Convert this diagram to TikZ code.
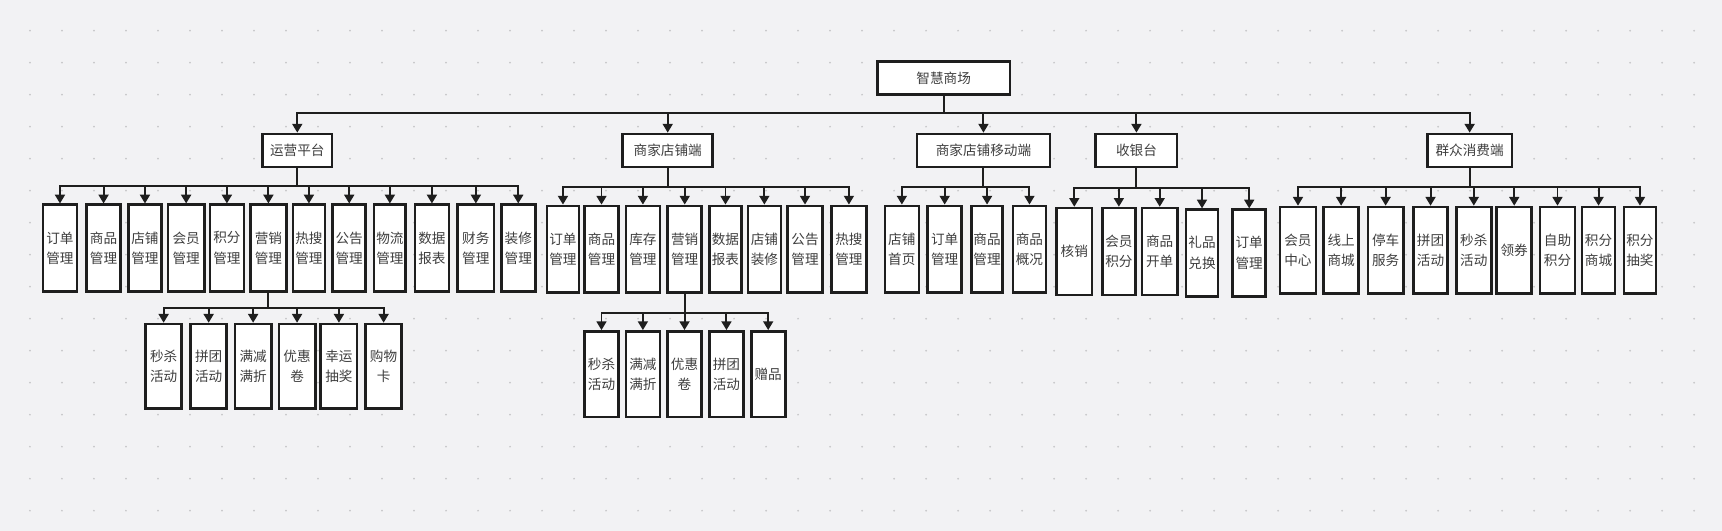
\documentclass[tikz,border=0pt]{standalone}
\usepackage{fontspec}
\newfontfamily\cjk{Noto Sans CJK SC}
\usetikzlibrary{arrows.meta}
\definecolor{paper}{RGB}{242,242,244}
\definecolor{dotc}{RGB}{198,198,200}
\definecolor{ink}{RGB}{30,30,30}
\definecolor{txt}{RGB}{62,62,62}
\tikzset{
  box/.style={draw=ink, fill=white, line width=2.4pt, inner sep=0pt, align=center,
    text=txt, font=\cjk\fontsize{12.4}{18.8}\selectfont},
  head/.style={box, minimum height=30pt},
  leaf/.style={box, minimum width=31pt, minimum height=79pt},
  arr/.style={draw=ink, line width=1.8pt, -{Triangle[width=9pt,length=8pt]}},
}
\begin{document}
\begin{tikzpicture}[x=1pt,y=-1pt]
                    % background and dot grid
                    \fill[paper] (0,0) rectangle (1568,483.5);
                    \useasboundingbox (0,0) rectangle (1568,483.5);
                    \foreach \i in {0,...,52}
                      \foreach \j in {0,...,15}
                        \fill[dotc] ({27.3+29.14*\i},{27.95+29.14*\j}) circle (0.9pt);

                    % Root
                    \node[head, minimum width=121pt] (root) at (859.3,71) {智慧商场};

                    % Level 1
                    \node[head, minimum width=63pt] (yy) at (270.7,137) {运营平台};
                    \node[head, minimum width=82pt] (sj) at (608,137) {商家店铺端};
                    \node[head, minimum width=121pt] (yd) at (895.5,137) {商家店铺移动端};
                    \node[head, minimum width=74pt] (sy) at (1034.8,137) {收银台};
                    \node[head, minimum width=77pt] (qz) at (1338.2,137) {群众消费端};

                    % Level 2 of yy
                    \node[leaf] (yy1) at (54.6,226) {订单\\管理};
                    \node[leaf] (yy2) at (94.3,226) {商品\\管理};
                    \node[leaf, minimum width=30pt] (yy3) at (132,226) {店铺\\管理};
                    \node[leaf, minimum width=33pt] (yy4) at (169.5,226) {会员\\管理};
                    \node[leaf] (yy5) at (206.6,226) {积分\\管理};
                    \node[leaf, minimum width=33pt] (yy6) at (244.4,226) {营销\\管理};
                    \node[leaf, minimum width=29pt] (yy7) at (281.3,226) {热搜\\管理};
                    \node[leaf, minimum width=30pt] (yy8) at (318,226) {公告\\管理};
                    \node[leaf, minimum width=29pt] (yy9) at (355,226) {物流\\管理};
                    \node[leaf] (yy10) at (393.3,226) {数据\\报表};
                    \node[leaf, minimum width=33pt] (yy11) at (433.3,226) {财务\\管理};
                    \node[leaf] (yy12) at (471.9,226) {装修\\管理};

                    % Level 3 of yy6
                    \node[leaf, minimum width=33pt, minimum height=77pt] (yx1) at (149,333.6) {秒杀\\活动};
                    \node[leaf, minimum width=33pt, minimum height=77pt] (yx2) at (190,333.6) {拼团\\活动};
                    \node[leaf, minimum width=33pt, minimum height=77pt] (yx3) at (230.5,333.6) {满减\\满折};
                    \node[leaf, minimum width=33pt, minimum height=77pt] (yx4) at (270.5,333.6) {优惠\\卷};
                    \node[leaf, minimum width=33pt, minimum height=77pt] (yx5) at (308.6,333.6) {幸运\\抽奖};
                    \node[leaf, minimum width=33pt, minimum height=77pt] (yx6) at (349.3,333.6) {购物\\卡};

                    % Level 2 of sj
                    \node[leaf, minimum width=29pt] (sj1) at (512.6,227) {订单\\管理};
                    \node[leaf] (sj2) at (547.7,227) {商品\\管理};
                    \node[leaf] (sj3) at (585.4,227) {库存\\管理};
                    \node[leaf] (sj4) at (623.5,227) {营销\\管理};
                    \node[leaf, minimum width=29pt] (sj5) at (660.6,227) {数据\\报表};
                    \node[leaf, minimum width=30pt] (sj6) at (696,227) {店铺\\装修};
                    \node[leaf, minimum width=32pt] (sj7) at (733,227) {公告\\管理};
                    \node[leaf, minimum width=32pt] (sj8) at (773,227) {热搜\\管理};

                    % Level 3 of sj4
                    \node[leaf, minimum height=78pt] (sx1) at (547.7,340.8) {秒杀\\活动};
                    \node[leaf, minimum height=78pt] (sx2) at (585.4,340.8) {满减\\满折};
                    \node[leaf, minimum height=78pt] (sx3) at (623.3,340.8) {优惠\\卷};
                    \node[leaf, minimum height=78pt] (sx4) at (661.5,340.8) {拼团\\活动};
                    \node[leaf, minimum height=78pt] (sx5) at (699.5,340.8) {赠品};

                    % Level 2 of yd
                    \node[leaf] (yd1) at (821.2,227) {店铺\\首页};
                    \node[leaf] (yd2) at (860.2,227) {订单\\管理};
                    \node[leaf, minimum width=28pt] (yd3) at (898.8,227) {商品\\管理};
                    \node[leaf, minimum width=30pt] (yd4) at (937.4,227) {商品\\概况};

                    % Level 2 of sy
                    \node[leaf, minimum width=32pt] (sy1) at (978.2,229) {核销};
                    \node[leaf, minimum width=30pt] (sy2) at (1018.8,229) {会员\\积分};
                    \node[leaf, minimum width=32pt] (sy3) at (1056,229) {商品\\开单};
                    \node[leaf, minimum width=29pt] (sy4) at (1094.5,230.5) {礼品\\兑换};
                    \node[leaf, minimum width=30pt] (sy5) at (1137.5,230.5) {订单\\管理};

                    % Level 2 of qz
                    \node[leaf, minimum width=33pt] (qz1) at (1181.9,228) {会员\\中心};
                    \node[leaf, minimum width=32pt] (qz2) at (1221.2,228) {线上\\商城};
                    \node[leaf, minimum width=32pt] (qz3) at (1261.7,228) {停车\\服务};
                    \node[leaf] (qz4) at (1302.6,228) {拼团\\活动};
                    \node[leaf, minimum width=32pt] (qz5) at (1342,228) {秒杀\\活动};
                    \node[leaf, minimum width=32pt] (qz6) at (1378.8,228) {领券};
                    \node[leaf, minimum width=32pt] (qz7) at (1418.2,228) {自助\\积分};
                    \node[leaf, minimum width=30pt] (qz8) at (1455.6,228) {积分\\商城};
                    \node[leaf, minimum width=29pt] (qz9) at (1493.3,228) {积分\\抽奖};

                    % Drawing connectors root -> level 1
                    \foreach \c in {yy,sj,yd,sy,qz}
                      \draw[arr] (root.south) -- ++(0,16) -| (\c.north);

                    % Drawing connectors level 1 -> level 2
                    \foreach \c in {1,...,12}
                      \draw[arr] (yy.south) -- ++(0,16) -| (yy\c.north);
                    \foreach \c in {1,...,8}
                      \draw[arr] (sj.south) -- ++(0,17) -| (sj\c.north);
                    \foreach \c in {1,...,4}
                      \draw[arr] (yd.south) -- ++(0,17) -| (yd\c.north);
                    \foreach \c in {1,...,5}
                      \draw[arr] (sy.south) -- ++(0,18) -| (sy\c.north);
                    \foreach \c in {1,...,9}
                      \draw[arr] (qz.south) -- ++(0,17.5) -| (qz\c.north);

                    % Drawing connectors level 2 -> level 3
                    \foreach \c in {1,...,6}
                      \draw[arr] (yy6.south) -- ++(0,13.5) -| (yx\c.north);
                    \foreach \c in {1,...,5}
                      \draw[arr] (sj4.south) -- ++(0,17) -| (sx\c.north);
\end{tikzpicture}
\end{document}
